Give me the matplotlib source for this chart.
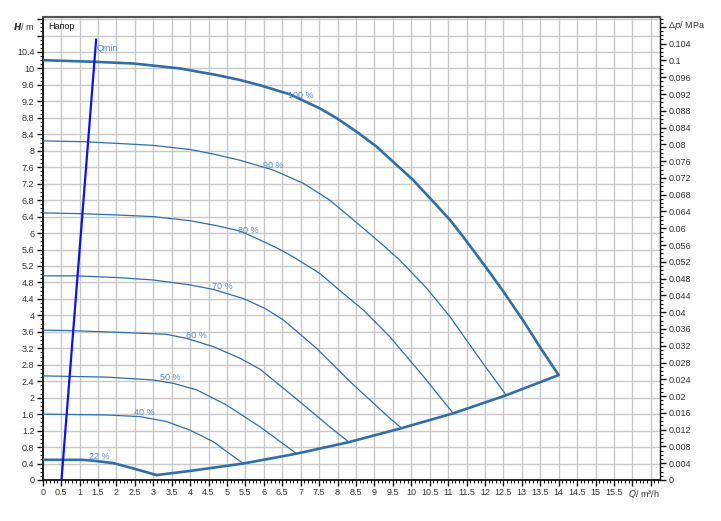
import numpy as np
import matplotlib
matplotlib.use("Agg")
import matplotlib.pyplot as plt
from matplotlib.ticker import MultipleLocator, FixedLocator, FuncFormatter

plt.rcParams["font.family"] = ["Liberation Sans", "DejaVu Sans"]

# ── curve data (Q in m³/h, H in m) ─────────────────────────────────
q_100 = [0, 1.45, 2.46, 3.72, 4.72, 5.35, 5.9, 6.71, 7.52, 7.98, 8.52, 9.06, 9.51,
         10.05, 10.6, 11.05, 11.41, 12.05, 12.5, 13.04, 13.5, 14.0]
h_100 = [10.2, 10.16, 10.12, 10.0, 9.84, 9.72, 9.59, 9.37, 9.03, 8.79, 8.46, 8.1, 7.73,
         7.29, 6.76, 6.32, 5.91, 5.14, 4.58, 3.87, 3.22, 2.55]

q_90 = [0, 1.1, 2.0, 3.0, 4.0, 4.63, 5.35, 6.26, 7.07, 7.79, 8.43, 8.97, 9.38,
        9.69, 10.4, 11.05, 11.95, 12.58]
h_90 = [8.24, 8.22, 8.18, 8.13, 8.03, 7.92, 7.77, 7.53, 7.21, 6.8, 6.32, 5.91, 5.59,
        5.34, 4.68, 3.97, 2.83, 2.06]

q_80 = [0, 1.1, 2.0, 3.0, 4.0, 4.72, 5.35, 5.9, 6.44, 6.8, 7.52, 8.16, 8.7, 9.42,
        10.3, 11.14]
h_80 = [6.49, 6.47, 6.44, 6.4, 6.3, 6.18, 6.05, 5.83, 5.6, 5.42, 5.02, 4.53, 4.13,
        3.48, 2.55, 1.62]

q_70 = [0, 0.92, 2.0, 3.0, 4.0, 4.63, 5.44, 6.03, 6.53, 7.43, 8.34, 9.42, 9.74]
h_70 = [4.96, 4.96, 4.92, 4.86, 4.74, 4.63, 4.41, 4.17, 3.89, 3.2, 2.39, 1.5, 1.26]

q_60 = [0, 0.74, 2.0, 3.36, 3.91, 4.63, 5.35, 5.9, 6.98, 7.79, 8.31]
h_60 = [3.64, 3.63, 3.59, 3.54, 3.44, 3.24, 2.96, 2.69, 1.9, 1.29, 0.92]

q_50 = [0, 1.74, 3.0, 3.54, 4.18, 4.99, 5.9, 6.89]
h_50 = [2.53, 2.5, 2.43, 2.35, 2.19, 1.82, 1.29, 0.64]

q_40 = [0, 1.74, 2.64, 3.36, 4.0, 4.63, 5.44]
h_40 = [1.6, 1.58, 1.54, 1.42, 1.21, 0.93, 0.4]

q_22 = [0, 1.1, 1.46, 1.92, 2.46, 3.09]
h_22 = [0.49, 0.49, 0.46, 0.41, 0.28, 0.12]

# lower boundary joining the curve ends
q_min_curve = [3.09, 4.0, 5.44, 6.89, 8.31, 9.74, 11.14, 12.58, 14.0]
h_min_curve = [0.12, 0.22, 0.4, 0.64, 0.92, 1.26, 1.62, 2.06, 2.55]

# Qmin line
q_qmin = [0.51, 1.45]
h_qmin = [0.0, 10.7]

speed_labels = ["100 %", "90 %", "80 %", "70 %", "60 %", "50 %", "40 %", "22 %"]
label_q = [6.65, 5.98, 5.3, 4.6, 3.89, 3.18, 2.48, 1.26]
label_h = [9.35, 7.63, 6.07, 4.7, 3.5, 2.48, 1.65, 0.58]

MPA_PER_M = 0.00981
Q_MAX, H_MAX = 16.75, 11.25

curve_col = "#2f6ea9"
label_col = "#5a8cc2"
text_col = "#333333"

fig = plt.figure(figsize=(7.21, 5.21), dpi=100)
ax = fig.add_axes([0.0592, 0.0787, 0.8562, 0.8887])

ax.set_xlim(0, Q_MAX)
ax.set_ylim(0, H_MAX)

# grid
ax.xaxis.set_major_locator(FixedLocator(np.arange(0, 16.51, 0.5)))
ax.yaxis.set_major_locator(FixedLocator(np.arange(0, 11.21, 0.4)))
ax.xaxis.set_minor_locator(MultipleLocator(0.1))
ax.yaxis.set_minor_locator(MultipleLocator(0.1))
ax.grid(True, which="major", color="#c8c8c8", lw=1.0, zorder=0)
ax.set_axisbelow(True)

ax.xaxis.set_major_formatter(FuncFormatter(lambda v, p: f"{v:g}" if v <= 15.51 else ""))
ax.yaxis.set_major_formatter(FuncFormatter(lambda v, p: f"{v:g}" if v <= 10.41 else ""))
ax.tick_params(which="major", direction="out", length=4, width=1, colors="#111111",
               labelsize=6.5, labelcolor=text_col, pad=2)
ax.tick_params(which="minor", direction="out", length=2.2, width=0.8, colors="#111111")

for s in ["left", "bottom"]:
    ax.spines[s].set_linewidth(1.3)
    ax.spines[s].set_color("#111111")
ax.spines["top"].set_linewidth(1.5)
ax.spines["top"].set_color("#555555")
ax.spines["right"].set_linewidth(1.0)
ax.spines["right"].set_color("#111111")

# curves
line_kw = dict(color=curve_col, solid_joinstyle="round", solid_capstyle="round", zorder=3)
ax.plot(q_100, h_100, lw=1.9, **line_kw)
for q, h in [(q_90, h_90), (q_80, h_80), (q_70, h_70), (q_60, h_60),
             (q_50, h_50), (q_40, h_40)]:
    ax.plot(q, h, lw=0.9, **line_kw)
ax.plot(q_22, h_22, lw=1.9, **line_kw)
ax.plot(q_min_curve, h_min_curve, lw=1.9, **line_kw)
ax.plot(q_qmin, h_qmin, color="#0a14e6", lw=1.6, zorder=4)

for txt, lq, lh in zip(speed_labels, label_q, label_h):
    ax.text(lq, lh, txt, color=label_col, fontsize=6.5, ha="left", va="center", zorder=5)
ax.text(1.47, 10.49, "Qmin", color=label_col, fontsize=6.5, ha="left", va="center", zorder=5)

ax.text(0.15, 11.02, "Напор", color="#111111", fontsize=6.5, ha="left", va="center")

# axis titles
fig.text(0.0485, 1 - 26 / 521, "$\\boldsymbol{H}$/ m", fontsize=6.5, color=text_col,
         ha="right", va="center")
ax.text(16.3, -0.33, "$\\it{Q}$/ m³/h", fontsize=6.5, color=text_col,
        ha="center", va="center")

# right axis in MPa
ax2 = ax.twinx()
ax2.set_ylim(0, H_MAX * MPA_PER_M)
ax2.yaxis.set_major_locator(FixedLocator(np.arange(0, 0.10801, 0.004)))
ax2.yaxis.set_minor_locator(MultipleLocator(0.001))
ax2.yaxis.set_major_formatter(FuncFormatter(lambda v, p: f"{round(v, 3):g}" if v <= 0.1041 else ""))
ax2.tick_params(which="major", direction="out", length=4, width=1, colors="#111111",
                labelsize=6.5, labelcolor=text_col, pad=2)
ax2.tick_params(which="minor", direction="out", length=2.2, width=0.8, colors="#111111")
for s in ax2.spines.values():
    s.set_visible(False)
fig.text(0.926, 1 - 26 / 521, "Δ$\\it{p}$/ MPa", fontsize=6.5, color=text_col,
         ha="left", va="center")

fig.savefig("out.png", dpi=100)
